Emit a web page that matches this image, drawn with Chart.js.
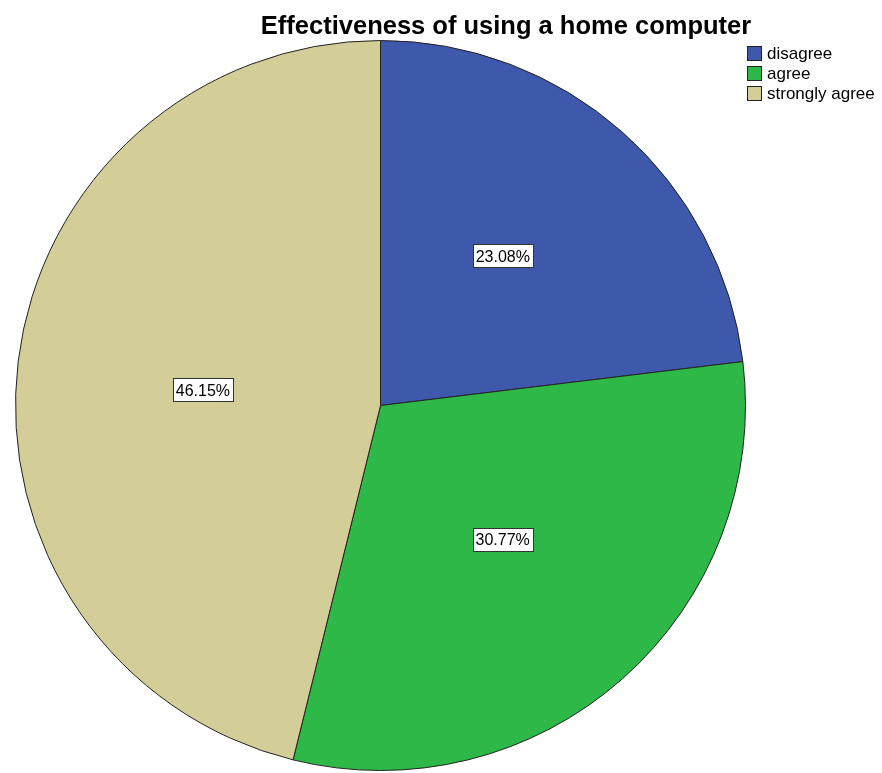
<!DOCTYPE html>
<html>
<head>
<meta charset="utf-8">
<script src="https://cdn.jsdelivr.net/npm/chart.js@4"></script>
<style>
    html, body { margin: 0; padding: 0; background: #fff; }
    #wrap { position: relative; width: 882px; height: 773px; }
</style>
</head>
<body>
<div id="wrap"><canvas id="pieChart" width="882" height="773"></canvas></div>
<script>
const chartTitle = 'Effectiveness of using a home computer';
const categories = ['disagree', 'agree', 'strongly agree'];
const percents = [23.08, 30.77, 46.15];
const sliceColors = ['#3E58AC', '#2EB848', '#D3CE97'];
// where each value label sits: share of the radius, then a small pixel nudge
const labelRadius = [0.53, 0.505, 0.49];
const labelNudge = [[-6, -5], [0, -4], [0, 6]];

// title, legend and the boxed percentage labels
const decorations = {
    id: 'decorations',
    afterDatasetsDraw(chart) {
        const ctx = chart.ctx;
        ctx.save();

        ctx.fillStyle = '#000';
        ctx.font = 'bold 25.5px "Liberation Sans", Arial, sans-serif';
        ctx.textAlign = 'center';
        ctx.textBaseline = 'alphabetic';
        ctx.fillText(chartTitle, 506, 34);

        // legend
        ctx.font = '17px "Liberation Sans", Arial, sans-serif';
        ctx.textAlign = 'left';
        ctx.textBaseline = 'middle';
        categories.forEach(function(name, i) {
            const y = 46 + i * 20;
            ctx.fillStyle = sliceColors[i];
            ctx.fillRect(747, y, 14, 14);
            ctx.strokeStyle = '#222';
            ctx.lineWidth = 1;
            ctx.strokeRect(747.5, y + 0.5, 14, 14);
            ctx.fillStyle = '#000';
            ctx.fillText(name, 767, y + 8);
        });

        // value labels
        const meta = chart.getDatasetMeta(0);
        ctx.font = '16px "Liberation Sans", Arial, sans-serif';
        ctx.textAlign = 'center';
        meta.data.forEach(function(arc, i) {
            const mid = (arc.startAngle + arc.endAngle) / 2;
            const r = arc.outerRadius * labelRadius[i];
            const x = arc.x + Math.cos(mid) * r + labelNudge[i][0];
            const y = arc.y + Math.sin(mid) * r + labelNudge[i][1];
            const text = percents[i].toFixed(2) + '%';
            const w = Math.round(ctx.measureText(text).width + 6);
            const h = 23;
            const bx = Math.round(x - w / 2);
            const by = Math.round(y - h / 2);
            ctx.fillStyle = '#fff';
            ctx.fillRect(bx, by, w, h);
            ctx.strokeStyle = '#333';
            ctx.strokeRect(bx + 0.5, by + 0.5, w, h);
            ctx.fillStyle = '#000';
            ctx.fillText(text, x, y + 1.5);
        });
        ctx.restore();
    }
};

new Chart(document.getElementById('pieChart').getContext('2d'), {
    type: 'pie',
    data: {
        labels: categories,
        datasets: [{
            data: percents,
            backgroundColor: sliceColors,
            borderColor: '#222',
            borderWidth: 1
        }]
    },
    options: {
        responsive: false,
        animation: false,
        layout: {
            padding: { left: 15, right: 136, top: 40, bottom: 2 }
        },
        plugins: {
            legend: { display: false },
            title: { display: false },
            tooltip: { enabled: false }
        }
    },
    plugins: [decorations]
});
</script>
</body>
</html>
